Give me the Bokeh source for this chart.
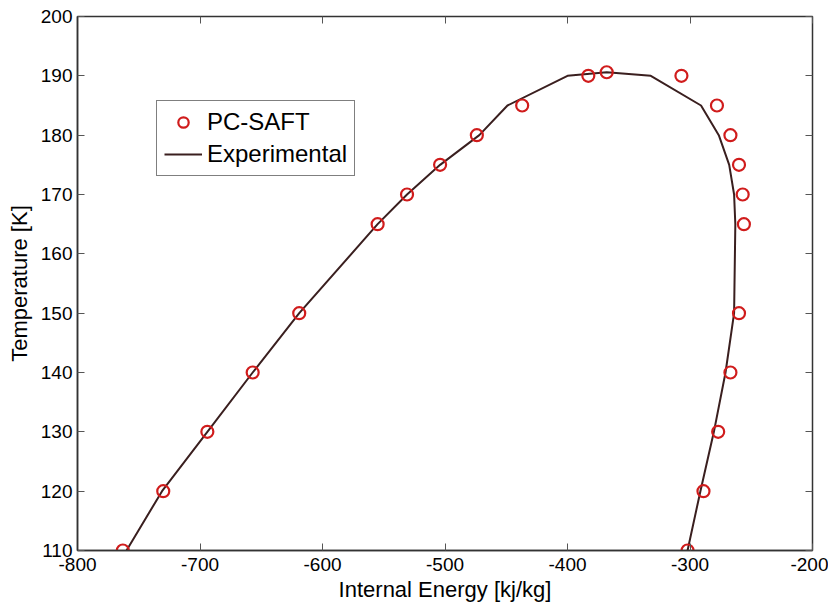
from bokeh.plotting import figure
from bokeh.models import Range1d, LinearAxis, FixedTicker, Legend, LegendItem
from bokeh.embed import file_html
from bokeh.resources import INLINE

# PC-SAFT model points
saft_energy = [-763, -730, -694, -657, -619, -555, -531, -504, -474, -437, -383, -368,
               -307, -278, -267, -260, -257, -256, -260, -267, -277, -289, -302]
saft_temp = [110, 120, 130, 140, 150, 165, 170, 175, 180, 185, 190, 190.6,
             190, 185, 180, 175, 170, 165, 150, 140, 130, 120, 110]

# Experimental curve
exp_energy = [-760, -731, -694, -657, -619, -555, -531, -504, -472, -449, -400, -368,
              -332, -291, -276.5, -268, -264, -263, -264, -271, -280.5, -291.5, -302]
exp_temp = [110, 120, 130, 140, 150, 165, 170, 175, 180, 185, 190, 190.6,
            190, 185, 180, 175, 170, 165, 150, 140, 130, 120, 110]

x_ticks = [-800, -700, -600, -500, -400, -300, -200]
x_tick_labels = ["-800", "-700", "-600", "-500", "-400", "-300", "-200"]
y_ticks = [110, 120, 130, 140, 150, 160, 170, 180, 190, 200]
y_tick_labels = ["110", "120", "130", "140", "150", "160", "170", "180", "190", "200"]

FONT = "Liberation Sans"

p = figure(width=828, height=604, output_backend="svg", toolbar_location=None,
           x_range=Range1d(-800, -200), y_range=Range1d(110, 200),
           min_border_left=77, min_border_right=16, min_border_top=16, min_border_bottom=54,
           x_axis_label="Internal Energy [kj/kg]", y_axis_label="Temperature [K]")

p.xgrid.visible = False
p.ygrid.visible = False
p.outline_line_color = "#333333"
p.outline_line_width = 1.5
p.background_fill_color = "white"
p.border_fill_color = "white"

for ax, ticks, labels in ((p.xaxis[0], x_ticks, x_tick_labels),
                          (p.yaxis[0], y_ticks, y_tick_labels)):
    ax.ticker = FixedTicker(ticks=ticks)
    ax.major_label_overrides = {t: s for t, s in zip(ticks, labels)}
    ax.major_tick_in = 7
    ax.major_tick_out = 0
    ax.minor_tick_line_color = None
    ax.axis_line_color = "#333333"
    ax.axis_line_width = 1.5
    ax.major_tick_line_color = "#555555"
    ax.major_label_text_font = FONT
    ax.major_label_text_font_size = "19px"
    ax.major_label_text_color = "black"
    ax.axis_label_text_font = FONT
    ax.axis_label_text_font_size = "22px"
    ax.axis_label_text_font_style = "normal"
    ax.axis_label_text_color = "black"

p.xaxis[0].major_label_standoff = 7
p.xaxis[0].axis_label_standoff = 3
p.yaxis[0].major_label_standoff = 5
p.yaxis[0].axis_label_standoff = 6

# mirrored ticks on top and right (no labels)
top = LinearAxis(ticker=FixedTicker(ticks=x_ticks),
                 major_label_overrides={t: "" for t in x_ticks},
                 major_tick_in=7, major_tick_out=0, minor_tick_line_color=None,
                 axis_line_color=None, major_tick_line_color="#555555", major_label_standoff=0)
right = LinearAxis(ticker=FixedTicker(ticks=y_ticks),
                   major_label_overrides={t: "" for t in y_ticks},
                   major_tick_in=7, major_tick_out=0, minor_tick_line_color=None,
                   axis_line_color=None, major_tick_line_color="#555555", major_label_standoff=0)
p.add_layout(top, "above")
p.add_layout(right, "right")

line_r = p.line(exp_energy, exp_temp, line_color="#3a1f1f", line_width=2)
circ_r = p.scatter(saft_energy, saft_temp, marker="circle", size=12,
                   fill_color=None, line_color="#d01c1c", line_width=2.2)

legend = Legend(items=[LegendItem(label="PC-SAFT", renderers=[circ_r]),
                       LegendItem(label="Experimental", renderers=[line_r])],
                location=(79, 374))
legend.label_text_font = FONT
legend.label_text_font_size = "24px"
legend.label_text_color = "black"
legend.border_line_color = "black"
legend.border_line_width = 1
legend.glyph_width = 38
legend.glyph_height = 26
legend.label_height = 26
legend.label_standoff = 5
legend.padding = 7
legend.spacing = 4
legend.margin = 0
legend.background_fill_alpha = 1
p.add_layout(legend, "center")

open("out.html", "w").write(file_html(p, INLINE))
